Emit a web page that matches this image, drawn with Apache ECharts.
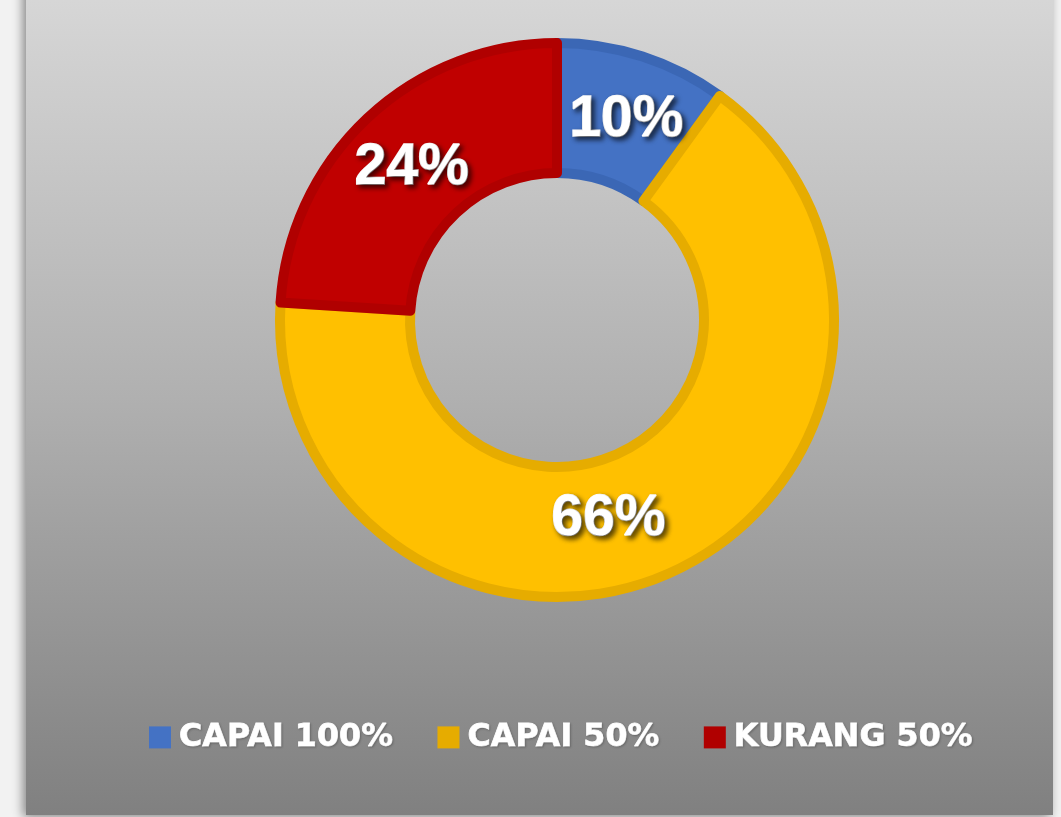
<!DOCTYPE html>
<html>
<head>
<meta charset="utf-8">
<style>
html,body{margin:0;padding:0;background:#f2f2f2;}
#chart{width:1061px;height:817px;}
</style>
<script src="https://cdn.jsdelivr.net/npm/echarts@6/dist/echarts.min.js"></script>
</head>
<body>
<div id="chart"></div>
<script>
var categories = ['CAPAI 100%', 'CAPAI 50%', 'KURANG 50%'];
var values = [10, 66, 24];
var fillColors = ['#4472c4', '#ffc000', '#c00000'];
var borderColors = ['#3b67b5', '#e6ac00', '#b00000'];
var legendColors = ['#4472c4', '#e6ac00', '#b00000'];
var labelOffsets = [[3, 5], [-40, 5], [2, 5]];

var chart = echarts.init(document.getElementById('chart'));
var data = categories.map(function (c, i) {
  return {
    name: c,
    value: values[i],
    itemStyle: { color: fillColors[i], borderColor: borderColors[i], borderWidth: 10 },
    label: { offset: labelOffsets[i] }
  };
});
chart.setOption({
  backgroundColor: '#f2f2f2',
  animation: false,
  graphic: [{
    type: 'rect',
    z: -10,
    shape: { x: 26, y: -20, width: 1027, height: 835 },
    style: {
      fill: new echarts.graphic.LinearGradient(0, 0, 0, 1, [
        { offset: 0, color: '#d8d8d8' },
        { offset: 0.5, color: '#b0b0b0' },
        { offset: 1, color: '#808080' }
      ]),
      shadowBlur: 10,
      shadowOffsetX: -3,
      shadowOffsetY: 2,
      shadowColor: 'rgba(0,0,0,0.45)'
    }
  }],
  legend: {
    data: categories.map(function (c, i) {
      return { name: c, itemStyle: { color: legendColors[i], borderWidth: 0 } };
    }),
    left: 149,
    top: 721,
    padding: 0,
    orient: 'horizontal',
    icon: 'rect',
    itemWidth: 22,
    itemHeight: 22,
    itemGap: 44,
    selectedMode: false,
    textStyle: {
      color: '#ffffff',
      fontFamily: '"DejaVu Sans", sans-serif',
      fontWeight: 'bold',
      fontSize: 31.8,
      lineHeight: 22,
      padding: [0, 0, 0, 3],
      textBorderColor: '#ffffff',
      textBorderWidth: 0.8,
      textShadowColor: 'rgba(0,0,0,0.2)',
      textShadowBlur: 2,
      textShadowOffsetX: 1,
      textShadowOffsetY: 1
    }
  },
  series: [{
    type: 'pie',
    center: [557, 320],
    radius: [147, 277],
    startAngle: 90,
    clockwise: true,
    avoidLabelOverlap: false,
    legendHoverLink: false,
    label: {
      show: true,
      position: 'inside',
      formatter: function (p) { return p.value + '%'; },
      color: '#ffffff',
      fontFamily: '"Liberation Sans", Arial, sans-serif',
      fontWeight: 'bold',
      fontSize: 57,
      textBorderColor: '#ffffff',
      textBorderWidth: 1.5,
      textShadowColor: 'rgba(0,0,0,0.65)',
      textShadowBlur: 5,
      textShadowOffsetX: 3,
      textShadowOffsetY: 3
    },
    labelLine: { show: false },
    emphasis: { disabled: true },
    data: data
  }]
});
</script>
</body>
</html>
